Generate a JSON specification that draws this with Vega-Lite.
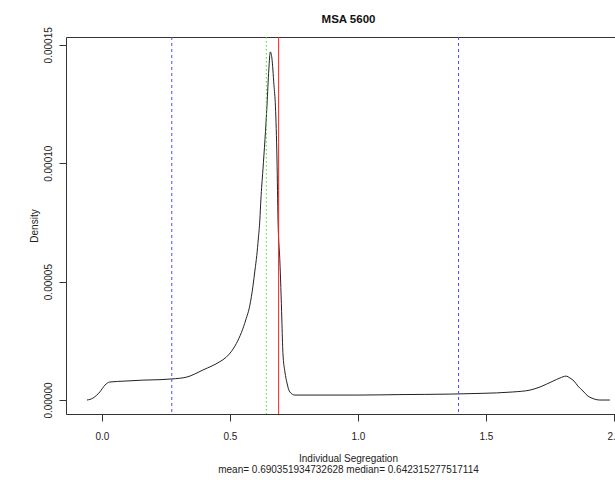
{
  "$schema": "https://vega.github.io/schema/vega-lite/v6.json",
  "width": 549,
  "height": 377,
  "autosize": "none",
  "padding": {"left": 66, "top": 37, "right": 0, "bottom": 66},
  "background": "white",
  "config": {
    "view": {"stroke": null},
    "font": "Liberation Sans",
    "axis": {"grid": false, "domainColor": "#333", "tickColor": "#333", "labelColor": "#222", "titleColor": "#222", "labelFontSize": 10, "titleFontSize": 10, "titleFontWeight": "normal", "tickSize": 7, "labelFlush": false, "labelOverlap": false, "labelBound": false}
  },
  "title": {"text": "MSA  5600", "fontSize": 11.5, "fontWeight": "bold", "color": "#111", "anchor": "middle", "dx": 8, "offset": 1},
  "datasets": {
    "density": [
      {"x": -0.058, "density": 0},
      {"x": -0.035, "density": 0.0000008},
      {"x": -0.008, "density": 0.0000034},
      {"x": 0.012, "density": 0.0000063},
      {"x": 0.031, "density": 0.0000076},
      {"x": 0.09, "density": 0.0000080},
      {"x": 0.16, "density": 0.0000084},
      {"x": 0.227, "density": 0.0000086},
      {"x": 0.273, "density": 0.0000089},
      {"x": 0.332, "density": 0.0000097},
      {"x": 0.363, "density": 0.0000110},
      {"x": 0.395, "density": 0.0000127},
      {"x": 0.43, "density": 0.0000144},
      {"x": 0.461, "density": 0.0000162},
      {"x": 0.485, "density": 0.0000180},
      {"x": 0.505, "density": 0.0000204},
      {"x": 0.525, "density": 0.0000238},
      {"x": 0.545, "density": 0.0000285},
      {"x": 0.562, "density": 0.0000338},
      {"x": 0.578, "density": 0.0000400},
      {"x": 0.590, "density": 0.0000480},
      {"x": 0.598, "density": 0.0000549},
      {"x": 0.605, "density": 0.0000610},
      {"x": 0.611, "density": 0.0000680},
      {"x": 0.617, "density": 0.0000760},
      {"x": 0.621, "density": 0.0000845},
      {"x": 0.629, "density": 0.0000972},
      {"x": 0.637, "density": 0.0001099},
      {"x": 0.645, "density": 0.0001246},
      {"x": 0.652, "density": 0.0001394},
      {"x": 0.658, "density": 0.0001470},
      {"x": 0.664, "density": 0.0001444},
      {"x": 0.672, "density": 0.0001331},
      {"x": 0.678, "density": 0.0001238},
      {"x": 0.684, "density": 0.0001014},
      {"x": 0.688, "density": 0.0000760},
      {"x": 0.695, "density": 0.0000592},
      {"x": 0.699, "density": 0.0000476},
      {"x": 0.703, "density": 0.0000338},
      {"x": 0.707, "density": 0.0000200},
      {"x": 0.715, "density": 0.0000118},
      {"x": 0.723, "density": 0.0000072},
      {"x": 0.734, "density": 0.0000034},
      {"x": 0.754, "density": 0.0000021},
      {"x": 0.852, "density": 0.0000021},
      {"x": 1.008, "density": 0.0000021},
      {"x": 1.164, "density": 0.0000023},
      {"x": 1.359, "density": 0.0000025},
      {"x": 1.477, "density": 0.0000028},
      {"x": 1.605, "density": 0.0000034},
      {"x": 1.672, "density": 0.0000042},
      {"x": 1.711, "density": 0.0000055},
      {"x": 1.762, "density": 0.0000080},
      {"x": 1.789, "density": 0.0000093},
      {"x": 1.813, "density": 0.0000101},
      {"x": 1.828, "density": 0.0000093},
      {"x": 1.844, "density": 0.0000080},
      {"x": 1.859, "density": 0.0000059},
      {"x": 1.879, "density": 0.0000038},
      {"x": 1.898, "density": 0.0000017},
      {"x": 1.914, "density": 0.0000008},
      {"x": 1.945, "density": 0},
      {"x": 1.984, "density": 0}
    ],
    "stats": [
      {"stat": "lower", "value": 0.273},
      {"stat": "median", "value": 0.642315277517114},
      {"stat": "mean", "value": 0.690351934732628},
      {"stat": "upper", "value": 1.393}
    ]
  },
  "layer": [
    {
      "data": {"name": "density"},
      "mark": {"type": "line", "color": "#222", "strokeWidth": 1, "interpolate": "monotone"},
      "encoding": {
        "x": {
          "field": "x", "type": "quantitative",
          "scale": {"domain": [-0.14, 2.004], "nice": false, "zero": false},
          "axis": {"orient": "bottom", "values": [0, 0.5, 1, 1.5, 2], "format": ".1f", "labelPadding": 10, "titlePadding": 12, "titleX": 282,
                   "title": ["Individual Segregation", "mean= 0.690351934732628 median= 0.642315277517114"], "titleLineHeight": 11}
        },
        "y": {
          "field": "density", "type": "quantitative",
          "scale": {"domain": [-0.0000059, 0.0001533], "nice": false, "zero": false},
          "axis": {"values": [0, 0.00005, 0.0001, 0.00015], "format": ".5f", "labelAngle": 270, "labelAlign": "center", "labelBaseline": "bottom", "labelPadding": 6, "title": "Density", "titlePadding": 4}
        }
      }
    },
    {
      "data": {"name": "stats"},
      "mark": {"type": "rule", "strokeWidth": 1},
      "encoding": {
        "x": {
          "field": "value", "type": "quantitative",
          "axis": {"orient": "top", "labels": false, "ticks": false, "title": null, "domain": true}
        },
        "color": {"field": "stat", "type": "nominal", "legend": null,
                  "scale": {"domain": ["lower", "median", "mean", "upper"], "range": ["#4d4dff", "#33dd33", "#ff2020", "#4d4dff"]}},
        "strokeDash": {"field": "stat", "type": "nominal", "legend": null,
                  "scale": {"domain": ["lower", "median", "mean", "upper"], "range": [[3, 3], [1.5, 2.5], [1, 0], [3, 3]]}}
      }
    }
  ],
  "resolve": {"axis": {"x": "independent"}}
}
